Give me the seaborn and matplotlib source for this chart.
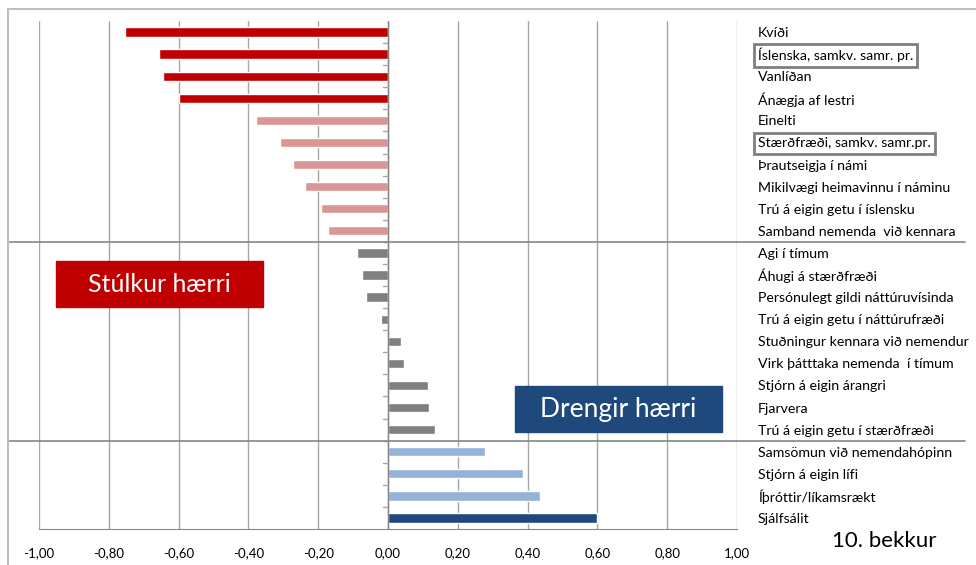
import matplotlib
matplotlib.use("Agg")
import matplotlib.pyplot as plt
import matplotlib.transforms as mtransforms
from matplotlib.patches import Rectangle
import seaborn as sns
import pandas as pd

# Data (difference, negative = girls higher)
categories = [
    "Kvíði",
    "Íslenska, samkv. samr. pr.",
    "Vanlíðan",
    "Ánægja af lestri",
    "Einelti",
    "Stærðfræði, samkv. samr.pr.",
    "Þrautseigja í námi",
    "Mikilvægi heimavinnu í náminu",
    "Trú á eigin getu í íslensku",
    "Samband nemenda  við kennara",
    "Agi í tímum",
    "Áhugi á stærðfræði",
    "Persónulegt gildi náttúruvísinda",
    "Trú á eigin getu í náttúrufræði",
    "Stuðningur kennara við nemendur",
    "Virk þátttaka nemenda  í tímum",
    "Stjórn á eigin árangri",
    "Fjarvera",
    "Trú á eigin getu í stærðfræði",
    "Samsömun við nemendahópinn",
    "Stjórn á eigin lífi",
    "Íþróttir/líkamsrækt",
    "Sjálfsálit",
]
values = [
    -0.754, -0.656, -0.645, -0.599,
    -0.378, -0.309, -0.272, -0.238, -0.192, -0.172,
    -0.089, -0.075, -0.063, -0.020, 0.037, 0.046, 0.115, 0.118, 0.135,
    0.278, 0.387, 0.436,
    0.599,
]
groups = (["girls_strong"] * 4 + ["girls"] * 6 + ["neutral"] * 9
          + ["boys"] * 3 + ["boys_strong"] * 1)
group_colors = {
    "girls_strong": "#C00000",
    "girls": "#DA9694",
    "neutral": "#808080",
    "boys": "#95B3D7",
    "boys_strong": "#1F497D",
}
boxed_labels = ["Íslenska, samkv. samr. pr.", "Stærðfræði, samkv. samr.pr."]
x_ticks = [-1.0, -0.8, -0.6, -0.4, -0.2, 0.0, 0.2, 0.4, 0.6, 0.8, 1.0]

df = pd.DataFrame({"category": categories, "value": values, "group": groups})

sns.set_style("white")
plt.rcParams["font.family"] = ["Lato", "DejaVu Sans"]
plt.rcParams["text.color"] = "black"

W, H = 976, 565
fig = plt.figure(figsize=(W / 100, H / 100), dpi=100)
ax = fig.add_axes([39 / W, 1 - 529 / H, 698 / W, 508 / H])

sns.barplot(data=df, y="category", x="value", hue="group", palette=group_colors,
            order=categories, dodge=False, width=0.42, legend=False,
            saturation=1, ax=ax)

ax.set_xlim(-1.0, 1.0)
ax.set_ylim(len(categories) - 0.5, -0.5)
ax.set_xticks(x_ticks)
ax.set_xticklabels([f"{t:.2f}".replace(".", ",") for t in x_ticks], fontsize=9.5)
ax.tick_params(axis="x", length=5, color="#868686", width=1, pad=8,
               labelcolor="black")
ax.set_xlabel("")
ax.set_ylabel("")

# category labels on the right side
ax.yaxis.tick_right()
ax.tick_params(axis="y", length=0, pad=15, labelsize=10.2, labelcolor="black")
for lab in ax.get_yticklabels():
    if lab.get_text() in boxed_labels:
        lab.set_bbox(dict(facecolor="none", edgecolor="#7F7F7F", lw=2,
                          boxstyle="square,pad=0.3"))

for s in ["top", "left", "right"]:
    ax.spines[s].set_visible(False)
ax.spines["bottom"].set_color("#868686")

ax.grid(axis="x", color="#A6A6A6", lw=1)
ax.grid(axis="y", visible=False)
ax.set_axisbelow(True)

# vertical zero axis with small ticks between categories
ax.axvline(0, color="#868686", lw=1, zorder=1)
for b in range(1, len(categories)):
    ax.plot([-0.014, 0], [b - 0.5, b - 0.5], color="#A6A6A6", lw=1, zorder=1)

# group separators spanning the whole chart
trans = mtransforms.blended_transform_factory(fig.transFigure, ax.transData)
for sep in [9.5, 18.5]:
    ax.plot([8 / W, 965 / W], [sep, sep], transform=trans, color="#868686",
            lw=1.2, clip_on=False)

# outer chart border
fig.patches.append(Rectangle((8 / W, -0.05), 1.1, 1 - 9 / H + 0.05,
                             transform=fig.transFigure, fill=False,
                             edgecolor="#BFBFBF", lw=1.5))

# annotation boxes
fig.patches.append(Rectangle((56 / W, 1 - 307 / H), 207 / W, 46 / H,
                             transform=fig.transFigure, color="#C00000"))
fig.text(159.5 / W, 1 - 284 / H, "Stúlkur hærri", color="white", fontsize=18,
         ha="center", va="center")
fig.patches.append(Rectangle((515 / W, 1 - 432 / H), 207 / W, 46 / H,
                             transform=fig.transFigure, color="#1F497D"))
fig.text(618.5 / W, 1 - 409 / H, "Drengir hærri", color="white", fontsize=19,
         ha="center", va="center")

fig.text(884 / W, 1 - 541 / H, "10. bekkur", fontsize=16, ha="center",
         va="center")

fig.savefig("out.png", dpi=100)
plt.close(fig)
